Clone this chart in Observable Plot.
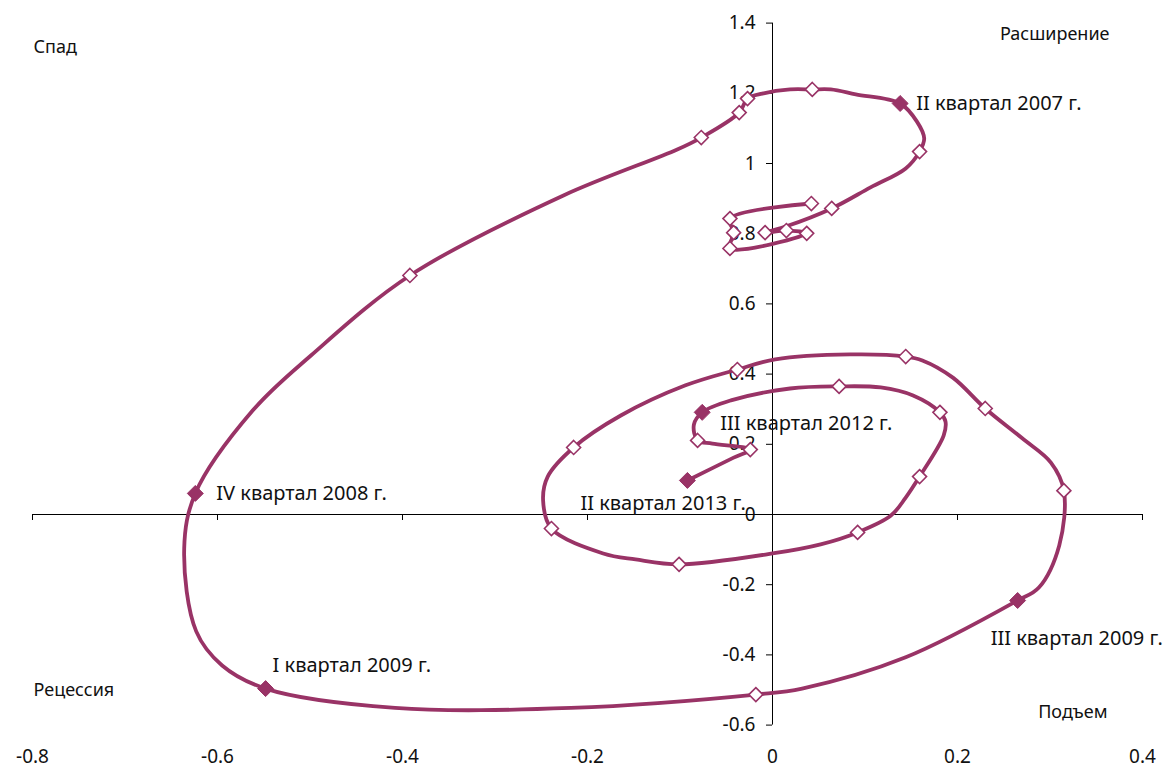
<!DOCTYPE html>
<html>
<head>
<meta charset="utf-8">
<script src="https://cdn.jsdelivr.net/npm/d3@7"></script>
<script src="https://cdn.jsdelivr.net/npm/@observablehq/plot@0.6"></script>
<style>
  html, body { margin: 0; padding: 0; background: #fff; }
  #chart svg { display: block; }
</style>
</head>
<body>
<div id="chart"></div>
<script>
// ---- Data (monthly path, quarterly markers) ----
const pathX = [
  0.042, -0.046, -0.042, -0.046, 0.037, 0.015, -0.008, 0.015, 0.064,
  0.106, 0.144, 0.159, 0.164, 0.156, 0.138, 0.090, 0.063, 0.043,
  0.019, -0.011, -0.027, -0.036, -0.077, -0.103, -0.226, -0.392,
  -0.499, -0.562, -0.624, -0.636, -0.623, -0.595, -0.548,
  -0.408, -0.218, -0.018, 0.032, 0.144, 0.265, 0.288, 0.310, 0.315,
  0.301, 0.270, 0.230, 0.195, 0.162, 0.144, 0.084, 0.003, -0.038,
  -0.094, -0.164, -0.215, -0.243, -0.248, -0.239, -0.183, -0.148, -0.101,
  0.000, 0.052, 0.092, 0.128, 0.144, 0.159, 0.185, 0.187, 0.181,
  0.152, 0.117, 0.072, 0.019, -0.045, -0.076, -0.085, -0.081,
  -0.065, -0.024, -0.042, -0.092
];
const pathY = [
  0.886, 0.843, 0.803, 0.758, 0.801, 0.809, 0.803, 0.821, 0.872,
  0.932, 0.986, 1.034, 1.071, 1.120, 1.171, 1.197, 1.211, 1.211,
  1.211, 1.199, 1.185, 1.145, 1.074, 1.040, 0.909, 0.681,
  0.453, 0.296, 0.060, -0.097, -0.333, -0.430, -0.496,
  -0.551, -0.551, -0.513, -0.496, -0.407, -0.245, -0.208, -0.088, 0.068,
  0.148, 0.217, 0.302, 0.390, 0.439, 0.450, 0.456, 0.442, 0.413,
  0.368, 0.282, 0.191, 0.108, 0.040, -0.040, -0.111, -0.128, -0.142,
  -0.111, -0.085, -0.051, -0.003, 0.048, 0.108, 0.225, 0.265, 0.291,
  0.339, 0.362, 0.365, 0.359, 0.325, 0.291, 0.256, 0.211,
  0.202, 0.185, 0.162, 0.097
];

const quarterNames = [
  "I квартал 2005 г.", "II квартал 2005 г.", "III квартал 2005 г.", "IV квартал 2005 г.",
  "I квартал 2006 г.", "II квартал 2006 г.", "III квартал 2006 г.", "IV квартал 2006 г.",
  "I квартал 2007 г.", "II квартал 2007 г.", "III квартал 2007 г.", "IV квартал 2007 г.",
  "I квартал 2008 г.", "II квартал 2008 г.", "III квартал 2008 г.", "IV квартал 2008 г.",
  "I квартал 2009 г.", "II квартал 2009 г.", "III квартал 2009 г.", "IV квартал 2009 г.",
  "I квартал 2010 г.", "II квартал 2010 г.", "III квартал 2010 г.", "IV квартал 2010 г.",
  "I квартал 2011 г.", "II квартал 2011 г.", "III квартал 2011 г.", "IV квартал 2011 г.",
  "I квартал 2012 г.", "II квартал 2012 г.", "III квартал 2012 г.", "IV квартал 2012 г.",
  "I квартал 2013 г.", "II квартал 2013 г."
];
const quarterX = [
  0.042, -0.046, -0.042, -0.046, 0.037, 0.015, -0.008, 0.064,
  0.159, 0.138, 0.043, -0.027, -0.036, -0.077, -0.392, -0.624,
  -0.548, -0.018, 0.265, 0.315, 0.230, 0.144, -0.038, -0.215,
  -0.239, -0.101, 0.092, 0.159, 0.181, 0.072, -0.076, -0.081,
  -0.024, -0.092
];
const quarterY = [
  0.886, 0.843, 0.803, 0.758, 0.801, 0.809, 0.803, 0.872,
  1.034, 1.171, 1.211, 1.185, 1.145, 1.074, 0.681, 0.060,
  -0.496, -0.513, -0.245, 0.068, 0.302, 0.450, 0.413, 0.191,
  -0.040, -0.142, -0.051, 0.108, 0.291, 0.365, 0.291, 0.211,
  0.185, 0.097
];
const highlighted = [
  "II квартал 2007 г.", "IV квартал 2008 г.", "I квартал 2009 г.",
  "III квартал 2009 г.", "III квартал 2012 г.", "II квартал 2013 г."
];

const xTicks = [-0.8, -0.6, -0.4, -0.2, 0, 0.2, 0.4];
const yTicks = [-0.6, -0.4, -0.2, 0, 0.2, 0.4, 0.6, 0.8, 1, 1.2, 1.4];
const quadrantLabels = ["Спад", "Расширение", "Рецессия", "Подъем"];

// ---- Tables built from the arrays ----
const path = pathX.map((x, i) => ({x, y: pathY[i]}));
const quarters = quarterNames.map((name, i) => ({
  name, x: quarterX[i], y: quarterY[i], hl: highlighted.includes(name)
}));
const openQ = quarters.filter(d => !d.hl);
const filledQ = quarters.filter(d => d.hl);
const byName = n => quarters.filter(d => d.name === n);

const fmt = d => String(+d.toFixed(1));
const COLOR = "#993366";
const FONT = "'Noto Sans', 'Open Sans', sans-serif";
const TXT = "#111";

const labelMark = (name, dx, dy) =>
  Plot.text(byName(name), {x: "x", y: "y", text: "name", dx, dy,
    textAnchor: "start", lineAnchor: "middle", fontSize: 20, fill: TXT});

const quadMark = (label, frameAnchor, dx, dy, textAnchor) =>
  Plot.text([label], {frameAnchor, text: d => d, dx, dy, textAnchor,
    lineAnchor: "middle", fontSize: 18, fill: TXT});

const chart = Plot.plot({
  width: 1174,
  height: 769,
  marginLeft: 32,
  marginRight: 32,
  marginTop: 22.6,
  marginBottom: 44.4,
  x: {domain: [-0.8, 0.4], axis: null},
  y: {domain: [-0.6, 1.4], axis: null},
  style: {fontFamily: FONT, fontSize: "18px", background: "white", color: TXT},
  marks: [
    // axes through the origin
    Plot.ruleY([0], {stroke: "black", strokeWidth: 1}),
    Plot.ruleX([0], {stroke: "black", strokeWidth: 1}),
    Plot.ruleX(xTicks, {x: d => d, y1: 0, y2: 0, insetBottom: -6, stroke: "black", strokeWidth: 1}),
    Plot.ruleY(yTicks, {y: d => d, x1: 0, x2: 0, insetLeft: -6, stroke: "black", strokeWidth: 1}),
    Plot.text(yTicks, {x: 0, y: d => d, text: fmt, dx: -17, textAnchor: "end",
      lineAnchor: "middle", fontSize: 19, fill: TXT}),
    Plot.text(xTicks, {x: d => d, frameAnchor: "bottom", text: fmt, dy: 32,
      lineAnchor: "middle", fontSize: 19, fill: TXT}),
    // quadrant labels
    quadMark(quadrantLabels[0], "top-left", 1, 24.5, "start"),
    quadMark(quadrantLabels[1], "top-right", -33, 11.5, "end"),
    quadMark(quadrantLabels[2], "bottom-left", 1, -34.6, "start"),
    quadMark(quadrantLabels[3], "bottom-right", -35, -12.6, "end"),
    // the trajectory
    Plot.line(path, {x: "x", y: "y", curve: "catmull-rom", stroke: COLOR, strokeWidth: 3.8,
      strokeLinejoin: "round", strokeLinecap: "round"}),
    Plot.dot(openQ, {x: "x", y: "y", symbol: "diamond2", r: 6.3, fill: "white", stroke: COLOR, strokeWidth: 1.6}),
    Plot.dot(filledQ, {x: "x", y: "y", symbol: "diamond2", r: 7.2, fill: COLOR, stroke: COLOR, strokeWidth: 1}),
    // labels of highlighted quarters
    labelMark("II квартал 2007 г.", 16, 0),
    labelMark("IV квартал 2008 г.", 21, 0),
    labelMark("I квартал 2009 г.", 7, -23),
    labelMark("III квартал 2009 г.", -27, 38),
    labelMark("III квартал 2012 г.", 18, 11),
    labelMark("II квартал 2013 г.", -107, 23)
  ]
});
document.getElementById("chart").appendChild(chart);
</script>
</body>
</html>
